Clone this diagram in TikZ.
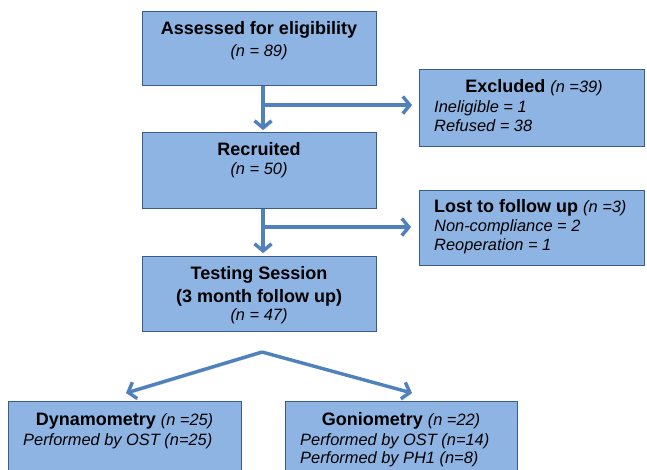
\documentclass[tikz,border=0pt]{standalone}
\usepackage{fontspec}
\setmainfont{Liberation Sans}
\usetikzlibrary{arrows.meta}
\definecolor{boxfill}{HTML}{8EB4E3}
\definecolor{boxdraw}{HTML}{385D8A}
\definecolor{arrowblue}{HTML}{4F81BD}
\newcommand{\bt}[1]{{\fontsize{18pt}{20pt}\selectfont\bfseries #1}}
\newcommand{\itx}[1]{{\fontsize{16.4pt}{19pt}\selectfont\itshape #1}}
\tikzset{
  box/.style={draw=boxdraw, fill=boxfill, line width=1.2pt, anchor=north west, inner sep=0pt},
  txt/.style={inner sep=0pt, anchor=base},
  ltxt/.style={inner sep=0pt, anchor=base west},
  flow/.style={line width=3.4pt, draw=arrowblue, line cap=butt,
    -{Straight Barb[length=7pt,width=17pt]},
    preaction={draw=black!22, transform canvas={shift={(1pt,-1.6pt)}}}}
}
\begin{document}
\begin{tikzpicture}[x=1pt,y=-1pt]
\clip (0,0) rectangle (647,470);
\fill[white] (0,0) rectangle (647,470);
% boxes
\node[box, minimum width=234pt, minimum height=74pt] (A) at (142,11) {};
\node[box, minimum width=225pt, minimum height=77pt] (Ex) at (419,69) {};
\node[box, minimum width=234pt, minimum height=76pt] (R) at (142,132) {};
\node[box, minimum width=225pt, minimum height=75pt] (L) at (419,190) {};
\node[box, minimum width=234pt, minimum height=75pt] (T) at (142,255.5) {};
\node[box, minimum width=233pt, minimum height=90pt] (D) at (8,401) {};
\node[box, minimum width=232pt, minimum height=90pt] (G) at (285,401) {};
% texts
\node[txt] (a1) at (259,35) {\bt{Assessed for eligibility}};
\node[txt] (a2) at (259,57) {\itx{(n = 89)}};
\node[txt] (e1) at (534,93) {\bt{Excluded\ }\itx{(n =39)}};
\node[ltxt] (e2) at (434,113) {\itx{Ineligible = 1}};
\node[ltxt] (e3) at (434,132) {\itx{Refused = 38}};
\node[txt] (r1) at (259,156) {\bt{Recruited}};
\node[txt] (r2) at (259,175) {\itx{(n = 50)}};
\node[ltxt] (l1) at (434,213) {\bt{Lost to follow up\ }\itx{(n =3)}};
\node[ltxt] (l2) at (434,232) {\itx{Non-compliance = 2}};
\node[ltxt] (l3) at (434,250.5) {\itx{Reoperation = 1}};
\node[txt] (t1) at (259,279) {\bt{Testing Session}};
\node[txt] (t2) at (259,302) {\bt{(3 month follow up)}};
\node[txt] (t3) at (259,320) {\itx{(n = 47)}};
\node[txt] (d1) at (124.5,425) {\bt{Dynamometry\ }\itx{(n =25)}};
\node[ltxt] (d2) at (23,445) {\itx{Performed by OST (n=25)}};
\node[txt] (g1) at (401,425) {\bt{Goniometry\ }\itx{(n =22)}};
\node[ltxt] (g2) at (300,445) {\itx{Performed by OST (n=14)}};
\node[ltxt] (g3) at (300,463) {\itx{Performed by PH1 (n=8)}};
% connectors
\coordinate (j1) at (263,105);
\coordinate (j2) at (263,227);
\coordinate (s) at (262,352);
\coordinate (dt) at (126,393);
\coordinate (gt) at (412,393);
\draw[flow, shorten >=2pt] (j1 |- A.south) -- (j1 |- R.north);
\draw[flow, shorten >=7pt] (j1) -- (j1 -| Ex.west);
\draw[flow, shorten >=2.5pt] (j2 |- R.south) -- (j2 |- T.north);
\draw[flow, shorten >=8pt] (j2) -- (j2 -| L.west);
\draw[flow] (s) -- (dt);
\draw[flow] (s) -- (gt);
\end{tikzpicture}
\end{document}
